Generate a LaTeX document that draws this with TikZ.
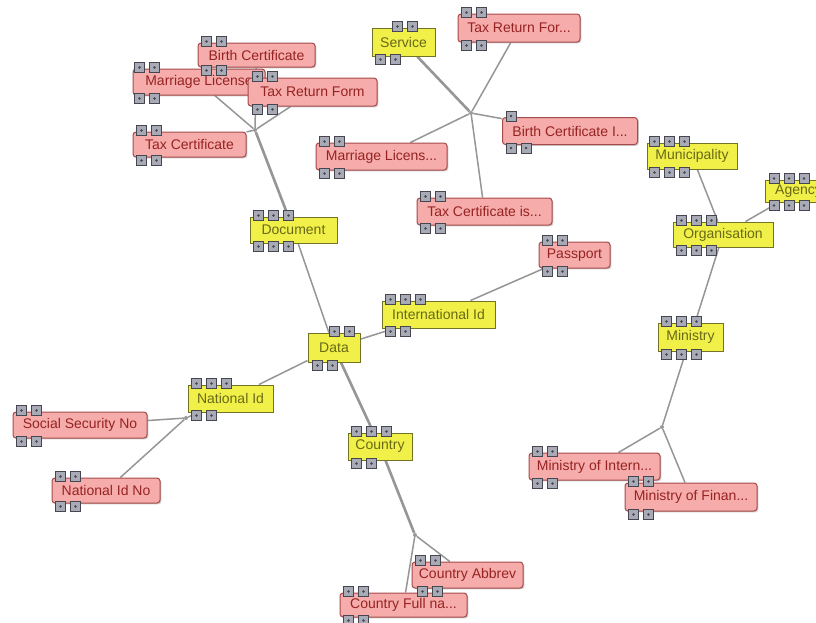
\documentclass[tikz,border=0pt]{standalone}
\usepackage{fontspec}
\setmainfont{Liberation Sans}
\usetikzlibrary{calc,backgrounds,shadows}

\definecolor{boxpink}{RGB}{246,172,170}
\definecolor{pinkline}{RGB}{165,75,75}
\definecolor{pinktext}{RGB}{150,35,35}
\definecolor{boxyellow}{RGB}{240,240,72}
\definecolor{yellowline}{RGB}{115,115,40}
\definecolor{yellowtext}{RGB}{105,105,25}
\definecolor{knobfill}{RGB}{168,170,182}
\definecolor{knobline}{RGB}{70,70,80}
\definecolor{edgegray}{RGB}{150,150,150}

% small buttons above and below a box: name, first top, #top, first bottom, #bottom
\newcommand{\knobs}[5]{%
  \foreach \k in {1,...,#3}
    \node[knob] (#1-t\k) at ($(#1.north west)+({#2+15*(\k-1)},-1)$) {};
  \foreach \k in {1,...,#5}
    \node[knob] (#1-b\k) at ($(#1.south west)+({#4+15*(\k-1)},3)$) {};
}

\begin{document}
\begin{tikzpicture}[x=1pt,y=-1pt,
    font=\fontsize{14}{16}\selectfont,
    boxsize/.style 2 args={minimum width=#1pt,minimum height=#2pt},
    pinkbox/.style={rectangle,rounded corners=3pt,draw=pinkline,line width=1pt,
      fill=boxpink,text=pinktext,inner sep=0pt,
      drop shadow={shadow xshift=1.3pt,shadow yshift=-1.3pt,fill=black!40}},
    yellowbox/.style={rectangle,draw=yellowline,line width=1pt,
      fill=boxyellow,text=yellowtext,inner sep=0pt,
      drop shadow={shadow xshift=1pt,shadow yshift=-1pt,fill=black!30}},
    knob/.style={rectangle,draw=knobline,line width=0.9pt,fill=knobfill,
      minimum size=10pt,inner sep=0pt,
      path picture={\fill[knobline] (path picture bounding box.center) circle (1.3pt);}},
    hubdot/.style={circle,fill=gray!80,inner sep=0pt,minimum size=4pt},
    link/.style={draw=edgegray,line width=1.5pt},
    thicklink/.style={draw=edgegray,line width=2.6pt}]

\useasboundingbox (0,0) rectangle (816,622);

\begin{scope}[every node/.style={hubdot}]
    \node (dochub) at (255,130) {};
    \node (svchub) at (471,113) {};
    \node (nathub) at (186,418) {};
    \node (ctryhub) at (415,535) {};
    \node (minhub) at (662,427) {};
\end{scope}

\begin{scope}[every node/.style={pinkbox}]
    \node[boxsize={132}{26}] (marr) at (199,82) {Marriage License};
    \node[boxsize={117}{24}] (birth) at (256.5,55) {Birth Certificate};
    \node[boxsize={129}{28}] (taxret) at (312.5,92) {Tax Return Form};
    \node[boxsize={113}{25}] (taxcert) at (189.5,144.5) {Tax Certificate};
    \node[boxsize={122}{28}] (taxfor) at (519,28) {Tax Return For...};
    \node[boxsize={135}{27}] (birthI) at (570,131) {Birth Certificate I...};
    \node[boxsize={131}{27}] (marrI) at (381.5,156.5) {Marriage Licens...};
    \node[boxsize={135}{27}] (taxcertI) at (484.5,211.5) {Tax Certificate is...};
    \node[boxsize={71}{26}] (passport) at (574.5,255) {Passport};
    \node[boxsize={134}{26}] (ssn) at (80,425) {Social Security No};
    \node[boxsize={108}{25}] (natidno) at (106,490.5) {National Id No};
    \node[boxsize={131}{27}] (minint) at (594.5,466.5) {Ministry of Intern...};
    \node[boxsize={132}{28}] (minfin) at (691,497) {Ministry of Finan...};
    \node[boxsize={127}{24}] (cfull) at (403.5,605) {Country Full na...};
    \node[boxsize={111}{26}] (cabbr) at (467.5,575) {Country Abbrev};
\end{scope}

\begin{scope}[every node/.style={yellowbox}]
    \node[boxsize={63}{28}] (svc) at (403.5,42) {Service};
    \node[boxsize={90}{26}] (muni) at (692,156) {Municipality};
    \node[boxsize={66}{22},anchor=west] (agency) at (765,191) {Agency};
    \node[boxsize={100}{25}] (org) at (723,234.5) {Organisation};
    \node[boxsize={87}{26}] (doc) at (293.5,230) {Document};
    \node[boxsize={113}{27}] (intl) at (438.5,314.5) {International Id};
    \node[boxsize={52}{29}] (data) at (334,347.5) {Data};
    \node[boxsize={85}{27}] (natid) at (230.5,398.5) {National Id};
    \node[boxsize={64}{27}] (country) at (380,446.5) {Country};
    \node[boxsize={65}{28}] (ministry) at (690.5,337) {Ministry};
\end{scope}

\knobs{marr}{7}{2}{7}{2}
\knobs{birth}{9}{2}{9}{2}
\knobs{taxret}{10}{2}{10}{2}
\knobs{taxcert}{9}{2}{9}{2}
\knobs{taxfor}{9}{2}{9}{2}
\knobs{birthI}{9}{1}{9}{2}
\knobs{marrI}{9}{2}{9}{2}
\knobs{taxcertI}{9}{2}{9}{2}
\knobs{passport}{9}{2}{9}{2}
\knobs{ssn}{9}{2}{9}{2}
\knobs{natidno}{9}{2}{9}{2}
\knobs{minint}{9}{2}{9}{2}
\knobs{minfin}{9}{2}{9}{2}
\knobs{cfull}{9}{2}{9}{2}
\knobs{cabbr}{9}{2}{11}{2}
\knobs{svc}{26}{2}{9}{2}
\knobs{muni}{8}{3}{8}{3}
\knobs{agency}{9}{3}{9}{3}
\knobs{org}{9}{3}{9}{3}
\knobs{doc}{9}{3}{9}{3}
\knobs{intl}{9}{3}{9}{2}
\knobs{data}{27}{2}{10}{2}
\knobs{natid}{9}{3}{9}{2}
\knobs{country}{9}{3}{9}{2}
\knobs{ministry}{9}{3}{9}{3}

\begin{scope}[on background layer,every edge/.style={link}]
    \fill[white] (0,0) rectangle (816,622);
    \path
        (dochub) edge [thicklink] (doc)
        (dochub) edge (marr)
        (dochub) edge (birth)
        (dochub) edge (taxret)
        (dochub) edge (taxcert)
        (svc) edge [thicklink] (svchub)
        (svchub) edge (taxfor)
        (svchub) edge (birthI)
        (svchub) edge (marrI)
        (svchub) edge (taxcertI)
        (doc) edge (data)
        (data) edge (intl)
        (intl) edge (passport)
        (data) edge (natid)
        (natid) edge (nathub)
        (nathub) edge (ssn)
        (nathub) edge (natidno)
        (data) edge [thicklink] (country)
        (country) edge [thicklink] (ctryhub)
        (ctryhub) edge (cabbr)
        (ctryhub) edge (cfull)
        (muni) edge (org)
        (agency) edge (org)
        (org) edge (ministry)
        (ministry) edge (minhub)
        (minhub) edge (minint)
        (minhub) edge (minfin);
\end{scope}
\end{tikzpicture}
\end{document}
